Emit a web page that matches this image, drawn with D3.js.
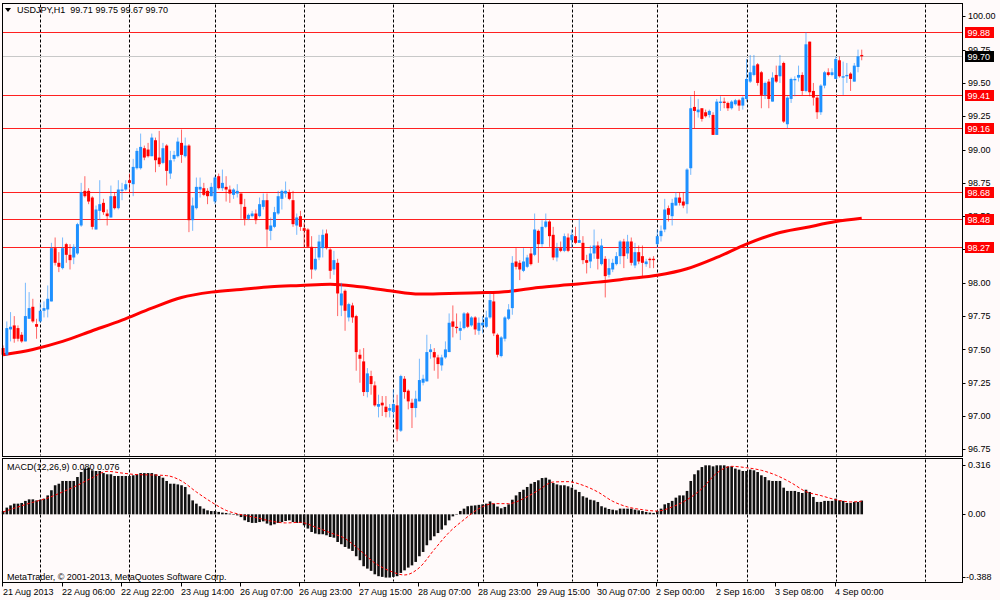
<!DOCTYPE html>
<html><head><meta charset="utf-8">
<script src="https://cdn.jsdelivr.net/npm/d3@7"></script>
<style>
html,body{margin:0;padding:0;background:#FFFAFA;}
svg{display:block;font-family:Tahoma,"Liberation Sans",Arial,sans-serif;}
</style>
</head><body>
<svg id="chart" width="1000" height="600"></svg>
<script>
const headerText = "USDJPY,H1  99.71 99.75 99.67 99.70";
const macdText = "MACD(12,26,9) 0.080 0.076";
const copyrightText = "MetaTrader, \u00A9 2001-2013, MetaQuotes Software Corp.";

const opens = [97.51,97.46,97.65,97.68,97.66,97.61,97.56,97.73,97.82,97.69,
97.71,97.79,97.80,97.86,98.26,98.15,98.11,98.29,98.21,98.19,
98.22,98.43,98.69,98.69,98.64,98.40,98.54,98.60,98.52,98.49,
98.65,98.56,98.69,98.70,98.77,98.74,98.86,98.86,99.01,99.00,
98.95,99.07,98.94,98.90,99.03,98.82,98.93,98.95,99.05,98.95,
99.03,98.47,98.56,98.70,98.71,98.69,98.65,98.61,98.80,98.71,
98.72,98.70,98.66,98.67,98.67,98.57,98.48,98.50,98.52,98.50,
98.57,98.62,98.39,98.42,98.52,98.63,98.67,98.68,98.62,98.43,
98.50,98.41,98.40,98.27,98.10,98.19,98.26,98.37,98.25,98.10,
98.15,97.83,97.94,97.74,97.83,97.75,97.46,97.41,97.18,97.30,
97.23,97.07,97.10,97.07,97.04,97.03,97.08,96.89,97.28,97.19,
97.10,97.06,97.11,97.25,97.26,97.48,97.48,97.44,97.38,97.44,
97.48,97.71,97.67,97.64,97.66,97.77,97.68,97.74,97.64,97.68,
97.67,97.74,97.86,97.61,97.45,97.58,97.73,97.81,98.16,98.15,
98.09,98.12,98.22,98.21,98.39,98.29,98.42,98.46,98.36,98.19,
98.26,98.24,98.34,98.32,98.35,98.30,98.30,98.17,98.16,98.22,
98.28,98.14,98.18,98.06,98.10,98.14,98.20,98.31,98.22,98.31,
98.13,98.23,98.20,98.14,98.18,98.18,98.29,98.35,98.40,98.56,
98.50,98.58,98.64,98.61,98.59,98.86,99.32,99.28,99.31,99.28,
99.26,99.26,99.11,99.35,99.36,99.35,99.31,99.34,99.37,99.33,
99.38,99.51,99.56,99.64,99.58,99.41,99.51,99.36,99.56,99.55,
99.65,99.19,99.38,99.52,99.54,99.56,99.44,99.81,99.44,99.39,
99.28,99.48,99.58,99.56,99.53,99.67,99.54,99.55,99.57,99.51,
99.62,99.71];
const highs = [97.53,97.71,97.78,97.75,97.68,97.63,98.00,97.93,97.88,97.73,
97.85,97.86,97.98,98.30,98.34,98.23,98.34,98.30,98.29,98.29,
98.45,98.75,98.80,98.71,98.65,98.58,98.77,98.63,98.55,98.73,
98.68,98.77,98.75,98.77,98.82,98.93,99.01,99.12,99.03,99.05,
99.12,99.09,99.14,99.05,99.04,98.99,98.99,99.09,99.15,99.09,
99.04,98.64,98.79,98.79,98.75,98.71,98.75,98.80,98.82,98.85,
98.80,98.73,98.71,98.74,98.67,98.63,98.52,98.54,98.55,98.64,
98.67,98.67,98.49,98.57,98.69,98.70,98.76,98.70,98.69,98.52,
98.54,98.45,98.41,98.35,98.26,98.36,98.40,98.40,98.26,98.24,
98.18,98.00,97.95,97.85,97.85,97.76,97.50,97.51,97.36,97.34,
97.26,97.16,97.15,97.15,97.09,97.20,97.16,97.31,97.30,97.20,
97.13,97.19,97.43,97.31,97.61,97.54,97.51,97.46,97.46,97.56,
97.77,97.83,97.77,97.71,97.78,97.78,97.75,97.75,97.74,97.75,
97.79,97.92,97.92,97.62,97.60,97.75,97.84,98.20,98.26,98.17,
98.26,98.21,98.26,98.52,98.40,98.47,98.52,98.47,98.42,98.30,
98.31,98.37,98.37,98.40,98.42,98.48,98.35,98.21,98.28,98.40,
98.31,98.33,98.20,98.18,98.18,98.23,98.32,98.33,98.36,98.34,
98.30,98.28,98.28,98.18,98.19,98.20,98.40,98.43,98.63,98.58,
98.63,98.68,98.68,98.68,98.86,99.40,99.44,99.38,99.31,99.30,
99.30,99.28,99.38,99.40,99.39,99.36,99.37,99.38,99.38,99.40,
99.68,99.71,99.71,99.65,99.59,99.51,99.53,99.58,99.63,99.71,
99.66,99.40,99.54,99.55,99.63,99.58,99.88,99.81,99.50,99.40,
99.49,99.59,99.61,99.61,99.70,99.70,99.66,99.65,99.58,99.65,
99.75,99.75];
const lows = [97.45,97.45,97.56,97.55,97.56,97.55,97.56,97.73,97.70,97.58,
97.70,97.74,97.74,97.86,98.13,98.08,98.10,98.15,98.10,98.14,
98.21,98.42,98.64,98.59,98.40,98.40,98.47,98.51,98.43,98.49,
98.55,98.55,98.62,98.69,98.67,98.65,98.85,98.85,98.92,98.94,
98.95,98.83,98.87,98.89,98.73,98.78,98.91,98.94,98.90,98.94,
98.38,98.39,98.55,98.64,98.65,98.59,98.65,98.59,98.70,98.69,
98.61,98.60,98.63,98.64,98.48,98.43,98.47,98.49,98.44,98.49,
98.55,98.27,98.32,98.41,98.51,98.55,98.64,98.62,98.42,98.36,
98.39,98.26,98.26,98.03,98.09,98.17,98.19,98.25,98.03,98.06,
97.75,97.75,97.64,97.71,97.70,97.34,97.25,97.15,97.14,97.16,
97.07,96.99,97.00,96.99,96.99,96.98,96.81,96.88,97.13,97.05,
96.91,96.99,97.11,97.23,97.26,97.43,97.34,97.28,97.34,97.43,
97.48,97.59,97.62,97.57,97.65,97.66,97.67,97.61,97.61,97.62,
97.66,97.73,97.60,97.44,97.44,97.56,97.72,97.76,98.10,98.02,
98.08,98.11,98.13,98.20,98.15,98.27,98.41,98.27,98.17,98.16,
98.23,98.23,98.23,98.26,98.29,98.30,98.14,98.07,98.11,98.18,
98.10,98.13,97.89,98.04,98.08,98.13,98.14,98.11,98.18,98.13,
98.11,98.14,98.05,98.12,98.11,98.11,98.26,98.31,98.38,98.46,
98.43,98.58,98.58,98.56,98.52,98.81,99.16,99.24,99.21,99.24,
99.24,99.11,99.11,99.29,99.31,99.29,99.30,99.33,99.29,99.30,
99.36,99.50,99.55,99.48,99.31,99.38,99.31,99.36,99.50,99.50,
99.20,99.16,99.35,99.40,99.51,99.41,99.43,99.40,99.33,99.23,
99.26,99.46,99.55,99.55,99.53,99.54,99.41,99.50,99.44,99.51,
99.58,99.67];
const closes = [97.46,97.66,97.67,97.58,97.58,97.56,97.75,97.81,97.71,97.67,
97.79,97.81,97.88,98.26,98.15,98.12,98.26,98.21,98.17,98.27,
98.44,98.68,98.65,98.61,98.42,98.55,98.59,98.53,98.50,98.65,
98.56,98.70,98.70,98.74,98.75,98.87,98.99,99.02,98.94,98.95,
99.09,98.92,98.89,99.01,98.84,98.92,98.96,99.06,98.96,99.03,
98.47,98.58,98.72,98.72,98.66,98.65,98.72,98.79,98.71,98.75,
98.70,98.67,98.70,98.69,98.59,98.48,98.51,98.52,98.47,98.59,
98.62,98.40,98.43,98.53,98.65,98.69,98.69,98.63,98.44,98.49,
98.42,98.39,98.27,98.10,98.18,98.31,98.36,98.26,98.09,98.17,
97.92,97.92,97.79,97.84,97.74,97.48,97.43,97.18,97.32,97.24,
97.08,97.09,97.08,97.03,97.06,97.09,96.90,97.30,97.18,97.11,
97.06,97.13,97.27,97.28,97.48,97.50,97.44,97.39,97.44,97.50,
97.70,97.67,97.66,97.66,97.77,97.67,97.74,97.65,97.70,97.70,
97.74,97.87,97.62,97.46,97.59,97.74,97.80,98.15,98.12,98.10,
98.16,98.19,98.14,98.40,98.29,98.42,98.46,98.35,98.19,98.26,
98.24,98.35,98.24,98.36,98.30,98.32,98.17,98.15,98.22,98.28,
98.18,98.28,98.05,98.11,98.15,98.20,98.31,98.20,98.31,98.15,
98.23,98.16,98.15,98.16,98.17,98.17,98.35,98.39,98.55,98.51,
98.60,98.64,98.60,98.58,98.85,99.31,99.29,99.30,99.23,99.25,
99.29,99.11,99.36,99.36,99.35,99.31,99.36,99.37,99.33,99.39,
99.53,99.58,99.63,99.50,99.41,99.50,99.38,99.54,99.51,99.63,
99.21,99.39,99.53,99.53,99.56,99.44,99.79,99.43,99.39,99.28,
99.48,99.58,99.56,99.58,99.68,99.55,99.55,99.56,99.53,99.63,
99.70,99.70];

// 200-period moving average, read at every 8th bar
const maIdx = [0,8,16,24,32,40,48,56,64,72,80,88,96,104,112,120,128,136,144,152,160,168,176,184,192,200,208,216,224,231];
const maVal = [97.46,97.50,97.56,97.64,97.72,97.81,97.89,97.93,97.95,97.97,97.98,97.99,97.97,97.94,97.915,97.92,97.925,97.935,97.965,97.985,98.005,98.03,98.056,98.105,98.19,98.29,98.37,98.415,98.46,98.485];

const macdHist = [0.019,0.039,0.052,0.062,0.062,0.066,0.078,0.087,0.087,0.081,
0.085,0.091,0.110,0.140,0.169,0.178,0.194,0.194,0.194,0.194,
0.217,0.246,0.266,0.271,0.256,0.252,0.252,0.240,0.233,0.233,
0.223,0.223,0.223,0.223,0.223,0.227,0.233,0.240,0.240,0.240,
0.240,0.233,0.223,0.213,0.194,0.178,0.178,0.174,0.169,0.159,
0.116,0.081,0.062,0.047,0.033,0.023,0.019,0.019,0.014,0.010,
0.008,0.004,0.000,-0.006,-0.016,-0.035,-0.045,-0.050,-0.050,-0.045,
-0.041,-0.054,-0.064,-0.058,-0.050,-0.045,-0.039,-0.035,-0.045,-0.050,
-0.050,-0.064,-0.083,-0.103,-0.112,-0.116,-0.116,-0.122,-0.132,-0.136,
-0.161,-0.174,-0.190,-0.200,-0.213,-0.244,-0.267,-0.302,-0.316,-0.329,
-0.349,-0.360,-0.364,-0.368,-0.368,-0.364,-0.360,-0.341,-0.326,-0.310,
-0.297,-0.277,-0.244,-0.219,-0.180,-0.151,-0.128,-0.109,-0.089,-0.064,
-0.035,-0.012,0.002,0.019,0.033,0.047,0.050,0.052,0.055,0.058,
0.062,0.075,0.062,0.045,0.035,0.043,0.058,0.085,0.110,0.130,
0.143,0.159,0.178,0.188,0.198,0.211,0.213,0.202,0.182,0.174,
0.169,0.169,0.163,0.155,0.143,0.130,0.105,0.097,0.085,0.081,
0.072,0.047,0.039,0.031,0.027,0.023,0.033,0.033,0.033,0.033,
0.027,0.023,0.019,0.014,0.010,0.008,0.019,0.033,0.058,0.066,
0.078,0.097,0.110,0.110,0.136,0.194,0.233,0.256,0.275,0.285,
0.285,0.279,0.285,0.285,0.285,0.279,0.279,0.266,0.260,0.252,
0.252,0.260,0.256,0.246,0.227,0.217,0.198,0.194,0.194,0.194,
0.155,0.136,0.136,0.136,0.130,0.124,0.143,0.130,0.101,0.072,
0.072,0.078,0.078,0.078,0.091,0.081,0.078,0.066,0.066,0.072,
0.072,0.080];

// signal line, read at every 4th bar
const sigIdx = [0,4,8,12,16,20,24,28,32,36,40,44,48,52,56,60,64,68,72,76,80,84,88,92,96,100,104,108,112,116,120,124,128,132,136,140,144,148,152,156,160,164,168,172,176,180,184,188,192,196,200,204,208,212,216,220,224,228,231];
const sigVal = [0.014,0.043,0.070,0.095,0.130,0.169,0.213,0.250,0.240,0.231,0.229,0.225,0.194,0.130,0.072,0.023,-0.002,-0.019,-0.039,-0.050,-0.047,-0.074,-0.107,-0.141,-0.209,-0.283,-0.329,-0.353,-0.310,-0.205,-0.105,-0.031,0.033,0.062,0.062,0.091,0.140,0.188,0.190,0.169,0.130,0.076,0.043,0.027,0.019,0.043,0.085,0.149,0.240,0.279,0.271,0.256,0.227,0.184,0.132,0.109,0.085,0.072,0.076];

const timeLabels = ["21 Aug 2013","22 Aug 06:00","22 Aug 22:00","23 Aug 14:00","26 Aug 07:00","26 Aug 23:00","27 Aug 15:00","28 Aug 07:00","28 Aug 23:00","29 Aug 15:00","30 Aug 07:00","2 Sep 00:00","2 Sep 16:00","3 Sep 08:00","4 Sep 00:00"];
const timeLabelIdx = [0,16,32,48,64,80,96,112,128,144,160,176,192,208,224];
const dayGridIdx = [10,34,57,81,105,129,153,176,200,224,248];
const priceTicks = [100.00,99.75,99.50,99.25,99.00,98.75,98.50,98.25,98.00,97.75,97.50,97.25,97.00,96.75];
const levelLines = [99.88,99.41,99.16,98.68,98.48,98.27];
const currentPrice = 99.70;
const macdTicks = [0.316,0.00,-0.388];
const macdTickLabels = ["0.316","0.00","-0.388"];

const svg = d3.select("#chart");
const BG = "#FFFAFA", BULL = "#1E90FF", BEAR = "#FF0000";
svg.append("rect").attr("width",1000).attr("height",600).attr("fill",BG);

const mainTop = 3.5, mainBot = 456.5, macdTop = 458.5, macdBot = 582.5, left = 2.5, right = 962.5;
const x = d3.scaleLinear().domain([0,248]).range([3.1, 3.1+248*3.717]);
const y = d3.scaleLinear().domain([96.70,100.10]).range([456,3]);
const ym = d3.scaleLinear().domain([-0.388,0.316]).range([581,460]);

// vertical day grid
const grid = svg.append("g");
[[mainTop+1, mainBot-1],[macdTop+1, macdBot-1]].forEach(([a,b])=>{
  grid.selectAll(null).data(dayGridIdx).enter().append("line")
    .attr("x1",d=>Math.round(x(d))+0.5).attr("x2",d=>Math.round(x(d))+0.5)
    .attr("y1",a).attr("y2",b)
    .attr("stroke","#000").attr("stroke-width",1).attr("stroke-dasharray","3,2");
});

// level lines
svg.append("g").selectAll("line").data(levelLines).enter().append("line")
  .attr("x1",left).attr("x2",right)
  .attr("y1",d=>Math.round(y(d))+0.5).attr("y2",d=>Math.round(y(d))+0.5)
  .attr("stroke","#FF2020").attr("stroke-width",1.2);
svg.append("line").attr("x1",left).attr("x2",right)
  .attr("y1",Math.round(y(currentPrice))+0.5).attr("y2",Math.round(y(currentPrice))+0.5)
  .attr("stroke","#C8C8C8").attr("stroke-width",1);

// MA
svg.append("path").datum(maIdx.map((d,i)=>[d,maVal[i]]))
  .attr("d", d3.line().x(d=>x(d[0])).y(d=>y(d[1])).curve(d3.curveMonotoneX))
  .attr("fill","none").attr("stroke","#FF0000").attr("stroke-width",3);

// candles
const bars = d3.range(opens.length).map(i=>({i,o:opens[i],h:highs[i],l:lows[i],c:closes[i]}));
const cg = svg.append("g");
cg.selectAll(".wick").data(bars).enter().append("line")
  .attr("x1",d=>x(d.i)).attr("x2",d=>x(d.i))
  .attr("y1",d=>y(d.h)).attr("y2",d=>y(d.l))
  .attr("stroke",d=>d.c>=d.o?BULL:BEAR).attr("stroke-width",1).attr("stroke-opacity",0.6);
cg.selectAll(".body").data(bars).enter().append("rect")
  .attr("x",d=>x(d.i)-1.5).attr("width",3)
  .attr("y",d=>y(Math.max(d.o,d.c)))
  .attr("height",d=>Math.max(1.2, Math.abs(y(d.o)-y(d.c))))
  .attr("fill",d=>d.c>=d.o?BULL:BEAR);

// MACD histogram
svg.append("g").selectAll("rect").data(macdHist).enter().append("rect")
  .attr("x",(d,i)=>x(i)-1.3).attr("width",2.6)
  .attr("y",d=>Math.min(ym(d),ym(0)))
  .attr("height",d=>Math.max(0.5,Math.abs(ym(d)-ym(0))))
  .attr("fill","#111");
svg.append("path").datum(sigIdx.map((d,i)=>[d,sigVal[i]]))
  .attr("d", d3.line().x(d=>x(d[0])).y(d=>ym(d[1])).curve(d3.curveMonotoneX))
  .attr("fill","none").attr("stroke","#FF0000").attr("stroke-width",1).attr("stroke-dasharray","3,2");

// panel borders
svg.append("rect").attr("x",left).attr("y",mainTop).attr("width",right-left).attr("height",mainBot-mainTop)
  .attr("fill","none").attr("stroke","#000");
svg.append("rect").attr("x",left).attr("y",macdTop).attr("width",right-left).attr("height",macdBot-macdTop)
  .attr("fill","none").attr("stroke","#000");

const FS = 9;
// price axis
const pa = svg.append("g");
pa.selectAll("line").data(priceTicks).enter().append("line")
  .attr("x1",right).attr("x2",right+3).attr("y1",d=>Math.round(y(d))+0.5).attr("y2",d=>Math.round(y(d))+0.5).attr("stroke","#000");
pa.selectAll("text").data(priceTicks).enter().append("text")
  .attr("x",968).attr("y",d=>y(d)).attr("dy","0.35em").attr("font-size",FS).attr("fill","#000")
  .text(d=>d.toFixed(2));
// level boxes
const lb = svg.append("g");
const boxes = levelLines.map(v=>({v,fill:"#FF0000"})).concat([{v:currentPrice,fill:"#000"}]);
lb.selectAll("rect").data(boxes).enter().append("rect")
  .attr("x",965).attr("width",29).attr("y",d=>Math.round(y(d.v))-5).attr("height",11).attr("fill",d=>d.fill);
lb.selectAll("text").data(boxes).enter().append("text")
  .attr("x",967.5).attr("y",d=>Math.round(y(d.v))+0.5).attr("dy","0.35em").attr("font-size",FS).attr("fill","#fff")
  .text(d=>d.v.toFixed(2));

// MACD axis
const ma = svg.append("g");
const macdLabelY = [465,514,577];
ma.selectAll("line").data(macdTicks).enter().append("line")
  .attr("x1",right).attr("x2",right+3).attr("y1",(d,i)=>macdLabelY[i]+0.5).attr("y2",(d,i)=>macdLabelY[i]+0.5).attr("stroke","#000");
ma.selectAll("text").data(macdTickLabels).enter().append("text")
  .attr("x",(d,i)=>i===2?966:968).attr("y",(d,i)=>macdLabelY[i]).attr("dy","0.35em").attr("font-size",FS).attr("fill","#000").text(d=>d);

// time axis
const ta = svg.append("g");
ta.selectAll("line").data(timeLabelIdx).enter().append("line")
  .attr("x1",d=>Math.round(x(d))-0.5).attr("x2",d=>Math.round(x(d))-0.5).attr("y1",macdBot).attr("y2",macdBot+4).attr("stroke","#000");
ta.selectAll("text").data(timeLabels).enter().append("text")
  .attr("x",(d,i)=>Math.round(x(timeLabelIdx[i]))-1 + (i===0?1:0)).attr("y",594.5).attr("font-size",FS).attr("fill","#000").text(d=>d);

// header
svg.append("path").attr("d","M5,8 L11,8 L8,12 Z").attr("fill","#000");
svg.append("text").attr("x",17).attr("y",13).attr("font-size",FS).attr("fill","#000")
  .style("white-space","pre").attr("xml:space","preserve").text(headerText);
svg.append("text").attr("x",7).attr("y",469.5).attr("font-size",FS).attr("fill","#000").text(macdText);
svg.append("text").attr("x",7).attr("y",579.5).attr("font-size",FS).attr("fill","#000").text(copyrightText);
</script>
</body></html>
